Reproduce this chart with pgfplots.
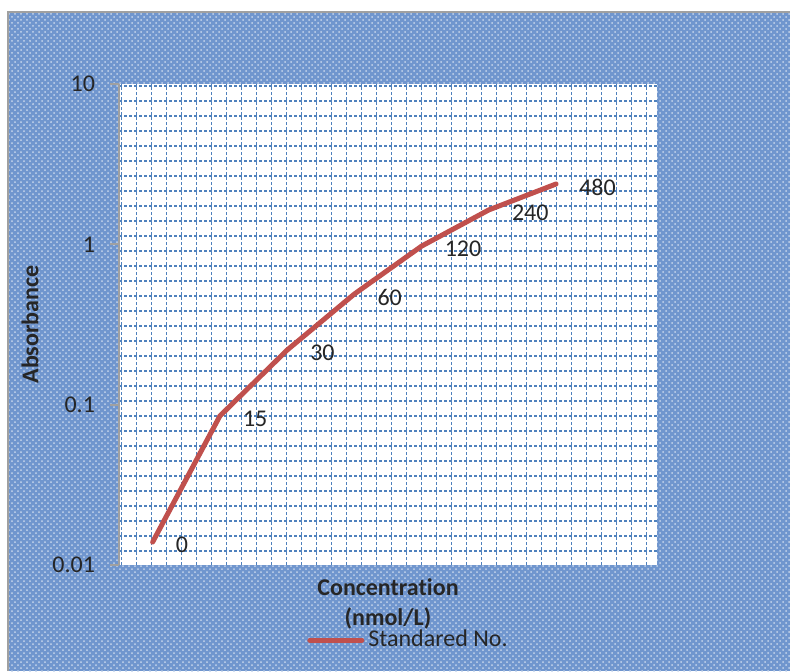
\documentclass[border=0pt]{standalone}
\usepackage{pgfplots}
\pgfplotsset{compat=1.18}
\usetikzlibrary{patterns}
\usepackage{fontspec}
\setmainfont{Carlito}[Ligatures={NoCommon,NoRare}, Contextuals=NoAlternate]
\definecolor{bgblue}{RGB}{112,150,206}
\definecolor{gridblue}{RGB}{79,129,189}
\definecolor{linered}{RGB}{192,80,77}
\definecolor{framegray}{RGB}{160,160,160}
\newcommand{\fs}{\fontsize{12}{15}\selectfont}
\begin{document}
\begin{tikzpicture}
\useasboundingbox (-59.5pt,-53pt) rectangle (335.5pt,282.5pt);
\fill[bgblue] (-55.5pt,-53pt) rectangle (335.5pt,276.5pt);
\fill[pattern=crosshatch dots, pattern color=white!60!bgblue] (-55.5pt,-53pt) rectangle (335.5pt,276.5pt);
\draw[framegray, line width=1pt] (-55.5pt,-53pt) -- (-55.5pt,276.5pt) -- (335.5pt,276.5pt);
\fill[white] (0,0) rectangle (269pt,240.5pt);
\foreach \k in {0,...,35} {
  \draw[gridblue, line width=0.75pt, dash pattern=on 1.5pt off 1pt] ({1.35pt+\k*7.5pt},0) -- ({1.35pt+\k*7.5pt},240.5pt);
}
\foreach \k in {0,...,31} {
  \draw[gridblue, line width=0.75pt, dash pattern=on 1.5pt off 1pt] (0,{239.5pt-\k*7.5pt}) -- (269pt,{239.5pt-\k*7.5pt});
}
\begin{axis}[
  at={(0,0)}, anchor=south west,
  scale only axis, width=269pt, height=240.5pt,
  ymode=log, ymin=0.01, ymax=10,
  xmin=-0.5, xmax=7.5,
  axis x line=bottom, axis y line=left,
  x axis line style={draw=none},
  y axis line style={framegray, line width=1pt, -},
  xtick=\empty,
  ytick={0.01,0.1,1,10},
  yticklabels={0.01,0.1,1,10},
  yminorticks=false,
  tick style={framegray, line width=1pt},
  tick align=outside,
  major tick length=4.5pt,
  yticklabel style={font=\fs, text=black!85, xshift=-4pt},
  xlabel={Concentration\\(nmol/L)},
  xlabel style={font=\fs\bfseries, text=black!85, align=center, at={(axis description cs:0.5,0)}, anchor=north, yshift=-3.2pt},
  ylabel={Absorbance},
  ylabel style={font=\fs\bfseries, text=black!85, at={(axis description cs:-0.1654,0.5)}, anchor=center, rotate=0},
  legend style={at={(axis description cs:0.3494,-0.156)}, anchor=west, draw=none, fill=none, inner xsep=0pt, inner ysep=0pt, font=\fs, text=black!85},
  legend image code/.code={\draw[#1, line width=2.5pt] (0pt,0pt) -- (26pt,0pt);},
  clip=false,
]
\addplot[linered, line width=2.5pt, line join=round, line cap=round,
  nodes near coords, point meta=explicit symbolic,
  nodes near coords style={anchor=west, xshift=7pt, yshift=-1.5pt, font=\fs, text=black!85}]
  table[meta=lab] {
x y lab
0 0.0139 0
1 0.085 15
2 0.219 30
3 0.49 60
4 0.975 120
5 1.64 240
6 2.38 480
};
\addlegendentry{Standared No.}
\end{axis}
\end{tikzpicture}
\end{document}
